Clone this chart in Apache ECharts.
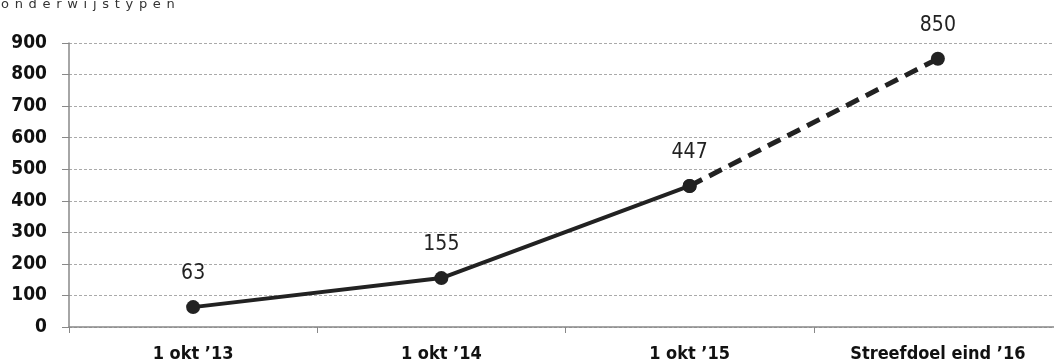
<!DOCTYPE html>
<html>
<head>
<meta charset="utf-8">
<script src="https://cdn.jsdelivr.net/npm/echarts@6/dist/echarts.min.js"></script>
<style>
  html, body { margin: 0; padding: 0; background: #fff; }
  #wrap { position: relative; width: 1054px; height: 364px; overflow: hidden; }
  #chart { width: 1054px; height: 364px; }
  #kop {
    position: absolute; left: 1px; top: -4px;
    font: 13px 'DejaVu Sans', sans-serif; color: #333;
    letter-spacing: 5.7px; white-space: nowrap;
  }
</style>
</head>
<body>
<div id="wrap">
  <div id="chart"></div>
  <div id="kop">onderwijstypen</div>
</div>
<script>
const categories = ["1 okt \u201913", "1 okt \u201914", "1 okt \u201915", "Streefdoel eind \u201916"];
// gemeten waarden (doorgetrokken lijn)
const actual = [63, 155, 447, "-"];
// streefwaarde (stippellijn)
const target = ["-", "-", 447, 850];
const yTicks = [0, 900, 100];

const chart = echarts.init(document.getElementById("chart"));

const labelFont = "'DejaVu Sans Condensed', 'DejaVu Sans'";

const option = {
  animation: false,
  backgroundColor: "#fff",
  grid: { left: 69, right: -8, top: 43, bottom: 37, outerBoundsMode: "none" },
  xAxis: {
    type: "category",
    data: categories,
    boundaryGap: true,
    axisLine: { lineStyle: { color: "#888", width: 1.5 } },
    axisTick: { show: true, length: 6, lineStyle: { color: "#888" } },
    axisLabel: {
      color: "#111",
      fontSize: 18,
      fontFamily: labelFont,
      fontWeight: "bold",
      margin: 18,
      interval: 0
    }
  },
  yAxis: {
    type: "value",
    min: yTicks[0],
    max: yTicks[1],
    interval: yTicks[2],
    axisLine: { show: true, lineStyle: { color: "#888", width: 1.5 } },
    axisTick: { show: true, length: 7, lineStyle: { color: "#888" } },
    splitLine: { lineStyle: { color: "#aaa", type: [3, 2], width: 1 } },
    axisLabel: {
      color: "#111",
      fontSize: 19,
      fontFamily: labelFont,
      fontWeight: "bold",
      margin: 22
    }
  },
  series: [
    {
      type: "line",
      data: actual,
      symbol: "circle",
      symbolSize: 14,
      itemStyle: { color: "#222" },
      lineStyle: { color: "#222", width: 4 },
      label: {
        show: true,
        position: "top",
        distance: 16,
        color: "#222",
        fontSize: 21,
        fontFamily: labelFont
      },
      z: 3
    },
    {
      type: "line",
      data: target,
      symbol: "circle",
      symbolSize: 14,
      itemStyle: { color: "#222" },
      lineStyle: { color: "#222", width: 5, type: [14, 8] },
      label: {
        show: true,
        position: "top",
        distance: 16,
        color: "#222",
        fontSize: 21,
        fontFamily: labelFont,
        formatter: function (p) { return p.dataIndex === 3 ? p.value : ""; }
      },
      z: 2
    }
  ]
};

chart.setOption(option);
</script>
</body>
</html>
